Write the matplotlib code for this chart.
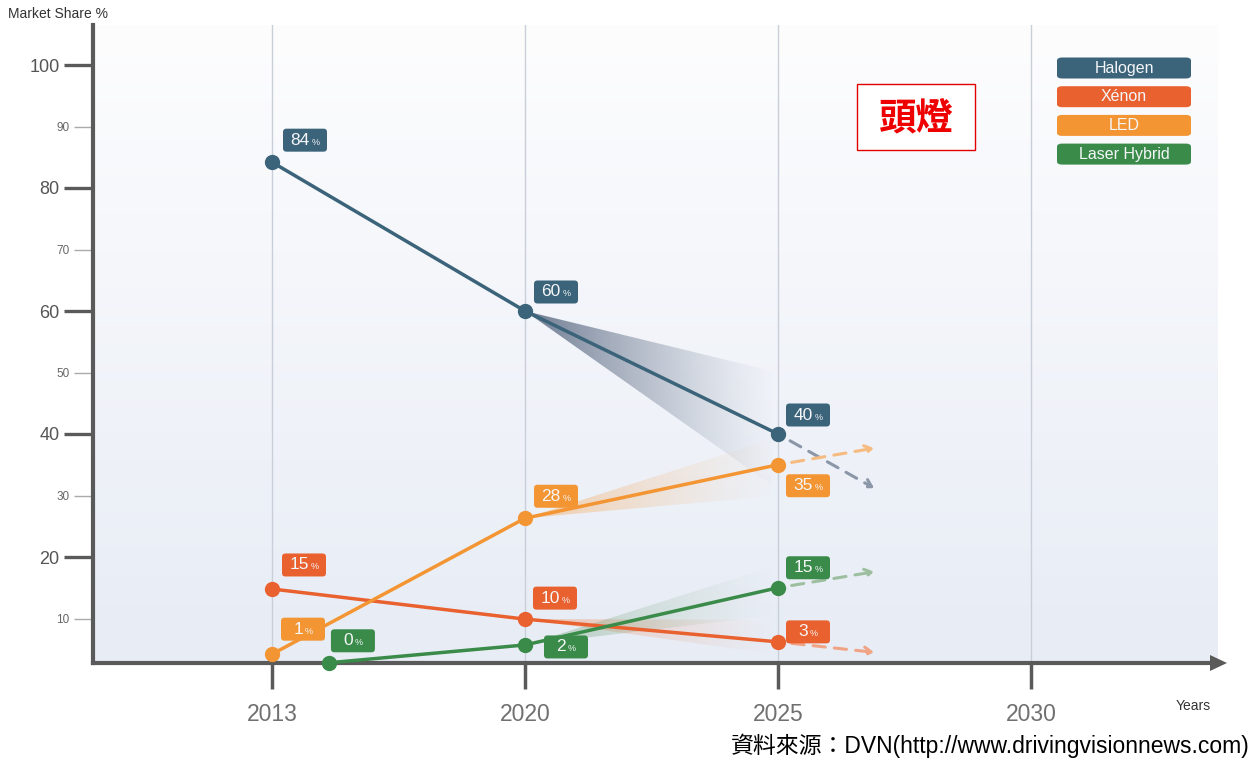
import numpy as np
import matplotlib.pyplot as plt
from matplotlib.patches import Polygon, FancyBboxPatch, Rectangle
from matplotlib.offsetbox import TextArea, HPacker, AnnotationBbox, DrawingArea
from matplotlib.colors import to_rgb

plt.rcParams['font.family'] = ['Liberation Sans', 'Noto Sans CJK TC']

# categorias del eje x (posiciones equiespaciadas)
years = ['2013', '2020', '2025', '2030']
year_pos = [0, 1, 2, 3]

series = ['Halogen', 'Xénon', 'LED', 'Laser Hybrid']
colors = ['#3b6379', '#e9612f', '#f39533', '#3a8b49']
fan_colors = ['#56657f', '#ee8a5e', '#f5a85a', '#6f9f72']
arrow_colors = ['#8b96a8', '#f1a385', '#f6bb80', '#9dbf9f']

# puntos dibujados (x en posiciones de categoria, y en %)
x_pts = [[0, 1, 2], [0, 1, 2], [0, 1, 2], [0.225, 1, 2]]
y_pts = [[84.2, 60.0, 40.0], [14.8, 9.9, 6.2], [4.2, 26.3, 35.0], [2.8, 5.7, 15.0]]
labels = [['84', '60', '40'], ['15', '10', '3'], ['1', '28', '35'], ['0', '2', '15']]
# desplazamiento de las etiquetas (px)
lab_off = [[(33, 22), (31, 19), (30, 19)],
           [(32, 24), (30, 21), (30, 10)],
           [(31, 25), (31, 22), (30, -21)],
           [(24, 22), (41, -2), (30, 20)]]

# tendencia despues de 2025
trend_x = 2.38
trend_y = [31.2, 4.5, 37.7, 17.6]
# abanico 2020 -> 2025 (rango en 2025)
fan_lo = [31.0, 4.1, 30.0, 10.6]
fan_hi = [50.0, 9.8, 39.5, 18.7]

W, H = 1257, 765
fig = plt.figure(figsize=(W / 100, H / 100), dpi=100)
ax = fig.add_axes([93 / W, 1 - 663 / H, (1218 - 93) / W, (663 - 25) / H])
xmin, xmax = (93 - 272) / 253, (1218 - 272) / 253
ymin, ymax = (680 - 663) / 6.15, (680 - 25) / 6.15

# fondo degradado
grad = np.linspace(0, 1, 256).reshape(-1, 1)
c_top, c_bot = np.array(to_rgb('#fdfdfe')), np.array(to_rgb('#e7ecf5'))
img = c_top + (c_bot - c_top) * grad[..., None]
ax.imshow(img, extent=[xmin, xmax, ymin, ymax], origin='upper', aspect='auto', zorder=0)

for xp in year_pos:
    ax.axvline(xp, color='#c9cfd9', lw=1, zorder=1)

# abanicos con degradado horizontal
fan_alpha = [0.85, 0.5, 0.5, 0.45]
for i in range(4):
    x0, y0 = x_pts[i][1], y_pts[i][1]
    poly = Polygon([(x0, y0), (2, fan_hi[i]), (2, fan_lo[i])], closed=True,
                   fc='none', ec='none')
    ax.add_patch(poly)
    rgb = np.array(to_rgb(fan_colors[i]))
    t = np.linspace(0, 1, 256)
    alpha = fan_alpha[i] * (1 - t) ** 1.3
    rgba = np.zeros((1, 256, 4))
    rgba[0, :, :3] = rgb
    rgba[0, :, 3] = alpha
    im = ax.imshow(rgba, extent=[x0, 2, min(fan_lo[i], y0), max(fan_hi[i], y0)],
                   aspect='auto', zorder=2, interpolation='bilinear')
    im.set_clip_path(poly)
ax.set_xlim(xmin, xmax)
ax.set_ylim(ymin, ymax)

# flechas discontinuas de tendencia
for i in range(4):
    ax.annotate('', xy=(trend_x, trend_y[i]), xytext=(2, y_pts[i][2]),
                arrowprops=dict(arrowstyle='->,head_length=0.5,head_width=0.3',
                                color=arrow_colors[i], lw=2.2, ls=(0, (4, 3)),
                                shrinkA=10, shrinkB=0), zorder=3)

# lineas y puntos
for i in range(4):
    ax.plot(x_pts[i], y_pts[i], color=colors[i], lw=2.5, marker='o', ms=10,
            zorder=4, clip_on=False)

# etiquetas con % (caja de tamano fijo)
bw, bh = 44 * 0.72, 23 * 0.72
for i in range(4):
    for j in range(3):
        dx, dy = lab_off[i][j]
        da = DrawingArea(bw, bh, 0, 0)
        da.add_artist(FancyBboxPatch((0, 0), bw, bh,
                                     boxstyle='round,pad=0,rounding_size=2.5',
                                     fc=colors[i], ec='none'))
        box = AnnotationBbox(da, (x_pts[i][j], y_pts[i][j]),
                             xybox=(dx * 0.72, dy * 0.72), boxcoords='offset points',
                             frameon=False, pad=0, annotation_clip=False)
        box.set_zorder(5)
        ax.add_artist(box)
        num = TextArea(labels[i][j], textprops=dict(color='#f4f6f8', size=12.5))
        pct = TextArea('%', textprops=dict(color='#f4f6f8', size=6.5))
        pack = HPacker(children=[num, pct], align='baseline', pad=0, sep=1)
        ab = AnnotationBbox(pack, (x_pts[i][j], y_pts[i][j]),
                            xybox=(dx * 0.72, dy * 0.72), boxcoords='offset points',
                            frameon=False, pad=0, annotation_clip=False)
        ab.set_zorder(6)
        ax.add_artist(ab)

# ejes
for s in ['top', 'right']:
    ax.spines[s].set_visible(False)
ax.spines['left'].set_color('#5a5a5a')
ax.spines['left'].set_linewidth(3)
ax.spines['bottom'].set_color('#5a5a5a')
ax.spines['bottom'].set_linewidth(3)
ax.set_yticks([20, 40, 60, 80, 100])
ax.set_yticklabels(['20', '40', '60', '80', '100'], fontsize=13, color='#555555')
ax.set_yticks([10, 30, 50, 70, 90], minor=True)
ax.set_yticklabels(['10', '30', '50', '70', '90'], minor=True, fontsize=8.5, color='#666666')
ax.tick_params(axis='y', which='major', length=21, width=2.4, color='#5a5a5a', pad=3)
ax.tick_params(axis='y', which='minor', length=14, width=1, color='#aaaaaa', pad=3)
ax.set_xticks(year_pos)
ax.set_xticklabels(years, fontsize=16.5, color='#707070')
ax.tick_params(axis='x', length=19, width=2.5, color='#5a5a5a', pad=10)

# flecha del eje x
fig.patches.append(Polygon([[1210 / W, 1 - 655 / H], [1227 / W, 1 - 663 / H],
                            [1210 / W, 1 - 671 / H]], closed=True,
                           transform=fig.transFigure, fc='#5a5a5a', ec='none'))

fig.text(8 / W, 1 - 14 / H, 'Market Share %', fontsize=10, color='#333333', va='center')
fig.text(1193 / W, 1 - 706 / H, 'Years', fontsize=10, color='#333333', va='center', ha='center')

# leyenda
for i, name in enumerate(series):
    yc = 68 + i * 28.7
    fig.patches.append(FancyBboxPatch((1057 / W, 1 - (yc + 10.5) / H), 134 / W, 21 / H,
                                      boxstyle='round,pad=0,rounding_size=0.004',
                                      transform=fig.transFigure, fc=colors[i], ec='none'))
    fig.text(1124 / W, 1 - yc / H, name, fontsize=11.5, color='#f4f6f8',
             ha='center', va='center')

# titulo en caja roja
fig.patches.append(Rectangle((857 / W, 1 - 150 / H), 118 / W, 66 / H,
                             transform=fig.transFigure, fc='white', ec='#e00000', lw=1))
fig.text(916 / W, 1 - 119 / H, '頭燈', fontsize=27, color='#ee0000', weight='bold',
         ha='center', va='center', family=['Noto Sans CJK TC'])

fig.text(1250 / W, 1 - 746 / H, '資料來源：DVN(http://www.drivingvisionnews.com)',
         fontsize=16.5, color='black', ha='right', va='center')

fig.savefig('out.png', dpi=100)
